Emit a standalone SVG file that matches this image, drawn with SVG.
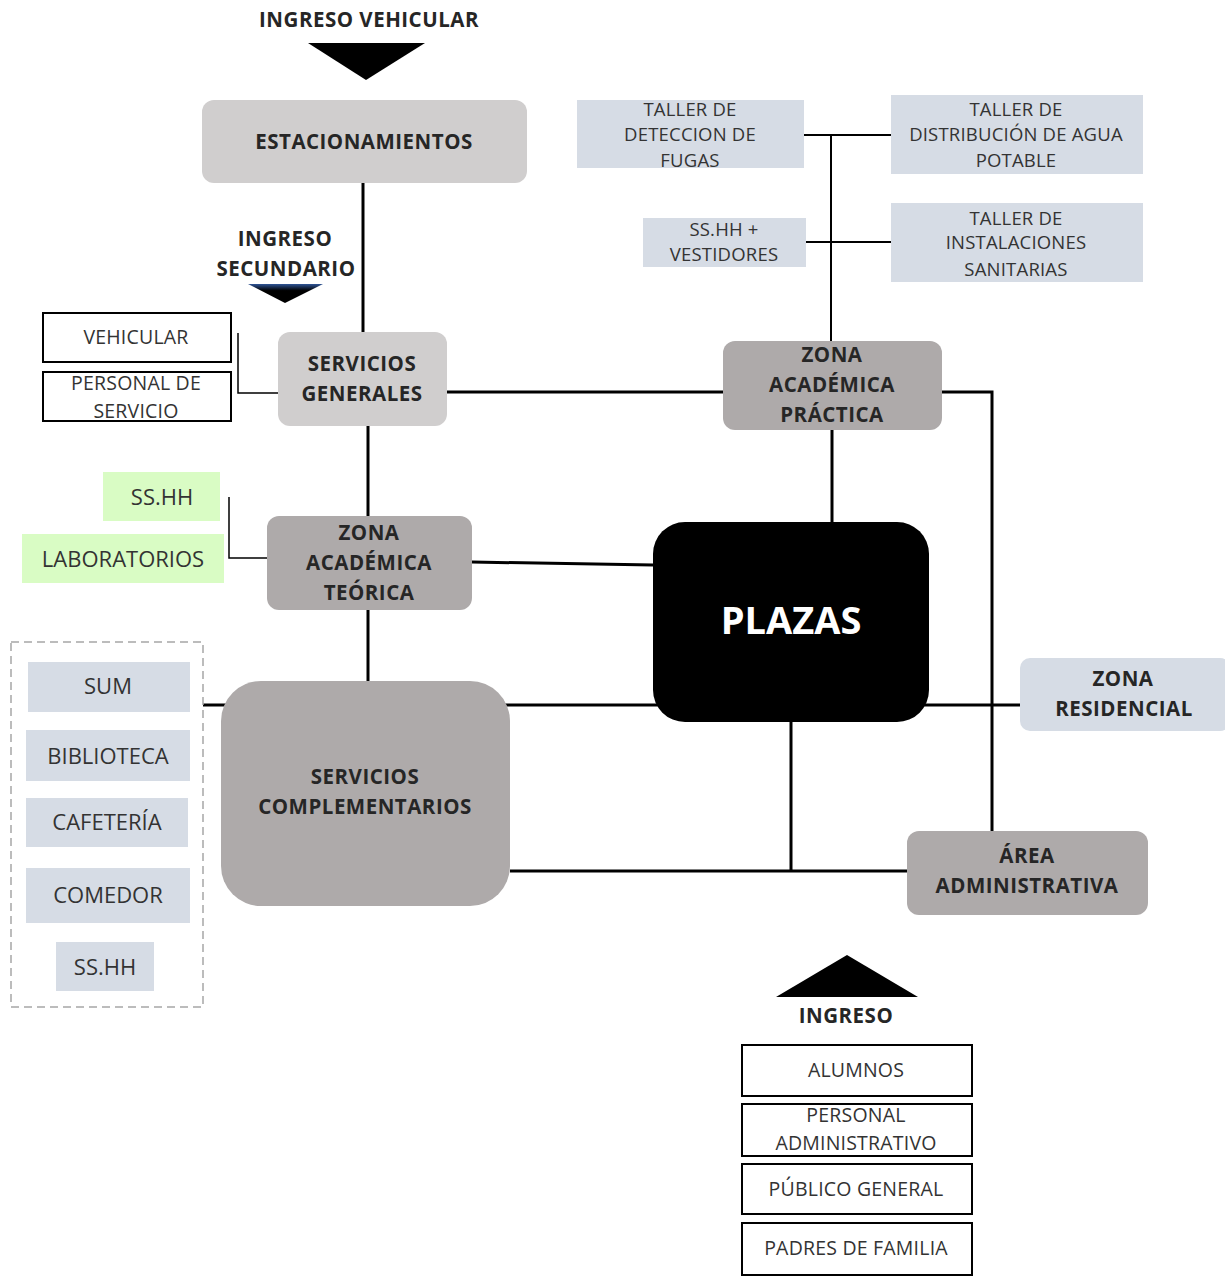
<svg xmlns="http://www.w3.org/2000/svg" width="1225" height="1278" viewBox="0 0 1225 1278">
  <defs>
    <linearGradient id="secGrad" x1="0" y1="0" x2="0" y2="1">
      <stop offset="0" stop-color="#2f5597"/>
      <stop offset="0.35" stop-color="#000"/>
      <stop offset="1" stop-color="#000"/>
    </linearGradient>
  </defs>
  <style>
    .b { font-family: "Open Sans", Lato, "Liberation Sans", sans-serif; font-weight: bold; font-size: 20.5px; letter-spacing: 0.5px; fill: #262626; text-anchor: middle; }
    .n { font-family: "Open Sans", Lato, "Liberation Sans", sans-serif; font-size: 19.5px; letter-spacing: 0.2px; fill: #333; text-anchor: middle; }
    .s { font-size: 18.5px; }
    .l { font-size: 22px; letter-spacing: 0; }
    .light { fill: #d0cece; }
    .dark { fill: #aeaaaa; }
    .blue { fill: #d6dce5; }
    .green { fill: #d9fcc4; }
    .outline { fill: #fff; stroke: #000; stroke-width: 2; }
    .main { stroke: #000; stroke-width: 3; fill: none; }
    .thin { stroke: #000; stroke-width: 2; fill: none; }
    .hair { stroke: #000; stroke-width: 1.5; fill: none; }
  </style>
  <rect width="1225" height="1278" fill="#fff"/>

  <!-- connectors -->
  <g id="connectors">
    <line class="main" x1="363" y1="183" x2="363" y2="332"/>
    <line class="main" x1="447" y1="392" x2="723" y2="392"/>
    <line class="main" x1="368" y1="426" x2="368" y2="516"/>
    <line class="main" x1="368" y1="610" x2="368" y2="681"/>
    <line class="main" x1="472" y1="562" x2="653" y2="565"/>
    <line class="main" x1="832" y1="430" x2="832" y2="522"/>
    <polyline class="main" points="942,392 992,392 992,831"/>
    <line class="main" x1="203" y1="705" x2="1020" y2="705"/>
    <line class="main" x1="510" y1="871" x2="907" y2="871"/>
    <line class="main" x1="791" y1="722" x2="791" y2="871"/>
    <line class="thin" x1="804" y1="135" x2="891" y2="135"/>
    <line class="thin" x1="806" y1="242" x2="891" y2="242"/>
    <line class="thin" x1="831" y1="135" x2="831" y2="341"/>
    <polyline class="hair" points="238,333 238,393 278,393"/>
    <polyline class="hair" points="229,497 229,558 267,558"/>
  </g>

  <!-- entry arrows -->
  <g id="ingreso-vehicular">
    <text class="b" x="369" y="27">INGRESO VEHICULAR</text>
    <polygon points="308,43 425,43 366,80" fill="#000"/>
  </g>
  <g id="ingreso-secundario">
    <text class="b" x="285" y="246">INGRESO</text>
    <text class="b" x="286" y="276">SECUNDARIO</text>
    <polygon points="248,284 323,284 285,303" fill="url(#secGrad)"/>
  </g>
  <g id="ingreso">
    <polygon points="776,997 918,997 847,955" fill="#000"/>
    <text class="b" x="846" y="1023">INGRESO</text>
  </g>

  <!-- main zones -->
  <g id="estacionamientos">
    <rect class="light" x="202" y="100" width="325" height="83" rx="12"/>
    <text class="b" x="364" y="149">ESTACIONAMIENTOS</text>
  </g>
  <g id="servicios-generales">
    <rect class="light" x="278" y="332" width="169" height="94" rx="12"/>
    <text class="b" x="362" y="371">SERVICIOS</text>
    <text class="b" x="362" y="401">GENERALES</text>
  </g>
  <g id="zona-academica-practica">
    <rect class="dark" x="723" y="341" width="219" height="89" rx="12"/>
    <text class="b" x="832" y="362">ZONA</text>
    <text class="b" x="832" y="392">ACADÉMICA</text>
    <text class="b" x="832" y="422">PRÁCTICA</text>
  </g>
  <g id="zona-academica-teorica">
    <rect class="dark" x="267" y="516" width="205" height="94" rx="12"/>
    <text class="b" x="369" y="540">ZONA</text>
    <text class="b" x="369" y="570">ACADÉMICA</text>
    <text class="b" x="369" y="600">TEÓRICA</text>
  </g>
  <g id="plazas">
    <rect x="653" y="522" width="276" height="200" rx="32" fill="#000"/>
    <text class="b" x="791" y="634" style="font-size:38px;letter-spacing:0;fill:#fff">PLAZAS</text>
  </g>
  <g id="servicios-complementarios">
    <rect class="dark" x="221" y="681" width="289" height="225" rx="40"/>
    <text class="b" x="365" y="784">SERVICIOS</text>
    <text class="b" x="365" y="814">COMPLEMENTARIOS</text>
  </g>
  <g id="zona-residencial">
    <rect class="blue" x="1020" y="658" width="210" height="73" rx="10"/>
    <text class="b" x="1123" y="686">ZONA</text>
    <text class="b" x="1124" y="716">RESIDENCIAL</text>
  </g>
  <g id="area-administrativa">
    <rect class="dark" x="907" y="831" width="241" height="84" rx="12"/>
    <text class="b" x="1027" y="863">ÁREA</text>
    <text class="b" x="1027" y="893">ADMINISTRATIVA</text>
  </g>

  <!-- workshops -->
  <g id="taller-fugas">
    <rect class="blue" x="577" y="100" width="227" height="68"/>
    <text class="n s" x="690" y="116">TALLER DE</text>
    <text class="n s" x="690" y="141">DETECCION DE</text>
    <text class="n s" x="690" y="167">FUGAS</text>
  </g>
  <g id="taller-agua">
    <rect class="blue" x="891" y="95" width="252" height="79"/>
    <text class="n s" x="1016" y="116">TALLER DE</text>
    <text class="n s" x="1016" y="141">DISTRIBUCIÓN DE AGUA</text>
    <text class="n s" x="1016" y="167">POTABLE</text>
  </g>
  <g id="sshh-vestidores">
    <rect class="blue" x="643" y="218" width="163" height="49"/>
    <text class="n s" x="724" y="236">SS.HH +</text>
    <text class="n s" x="724" y="261">VESTIDORES</text>
  </g>
  <g id="taller-sanitarias">
    <rect class="blue" x="891" y="203" width="252" height="79"/>
    <text class="n s" x="1016" y="225">TALLER DE</text>
    <text class="n s" x="1016" y="249">INSTALACIONES</text>
    <text class="n s" x="1016" y="276">SANITARIAS</text>
  </g>

  <!-- general services access -->
  <g id="vehicular">
    <rect class="outline" x="43" y="313" width="188" height="49"/>
    <text class="n" x="136" y="344">VEHICULAR</text>
  </g>
  <g id="personal-servicio">
    <rect class="outline" x="43" y="372" width="188" height="49"/>
    <text class="n" x="136" y="390">PERSONAL DE</text>
    <text class="n" x="136" y="418">SERVICIO</text>
  </g>

  <!-- theory zone annexes -->
  <g id="sshh-teorica">
    <rect class="green" x="103" y="472" width="117" height="49"/>
    <text class="n l" x="162" y="505">SS.HH</text>
  </g>
  <g id="laboratorios">
    <rect class="green" x="22" y="534" width="202" height="49"/>
    <text class="n l" x="123" y="567">LABORATORIOS</text>
  </g>

  <!-- complementary services list -->
  <g id="complementarios-lista">
    <rect x="11" y="642" width="192" height="365" fill="none" stroke="#a6a6a6" stroke-width="1.5" stroke-dasharray="8,5"/>
    <g id="sum">
      <rect class="blue" x="28" y="662" width="162" height="50"/>
      <text class="n l" x="108" y="694">SUM</text>
    </g>
    <g id="biblioteca">
      <rect class="blue" x="26" y="730" width="164" height="51"/>
      <text class="n l" x="108" y="764">BIBLIOTECA</text>
    </g>
    <g id="cafeteria">
      <rect class="blue" x="26" y="798" width="162" height="49"/>
      <text class="n l" x="107" y="830">CAFETERÍA</text>
    </g>
    <g id="comedor">
      <rect class="blue" x="26" y="868" width="164" height="55"/>
      <text class="n l" x="108" y="903">COMEDOR</text>
    </g>
    <g id="sshh-complementarios">
      <rect class="blue" x="56" y="942" width="98" height="49"/>
      <text class="n l" x="105" y="975">SS.HH</text>
    </g>
  </g>

  <!-- users list -->
  <g id="alumnos">
    <rect class="outline" x="742" y="1045" width="230" height="51"/>
    <text class="n" x="856" y="1077">ALUMNOS</text>
  </g>
  <g id="personal-administrativo">
    <rect class="outline" x="742" y="1104" width="230" height="52"/>
    <text class="n" x="856" y="1122">PERSONAL</text>
    <text class="n" x="856" y="1150">ADMINISTRATIVO</text>
  </g>
  <g id="publico-general">
    <rect class="outline" x="742" y="1164" width="230" height="50"/>
    <text class="n" x="856" y="1196">PÚBLICO GENERAL</text>
  </g>
  <g id="padres-familia">
    <rect class="outline" x="742" y="1223" width="230" height="52"/>
    <text class="n" x="856" y="1255">PADRES DE FAMILIA</text>
  </g>
</svg>
